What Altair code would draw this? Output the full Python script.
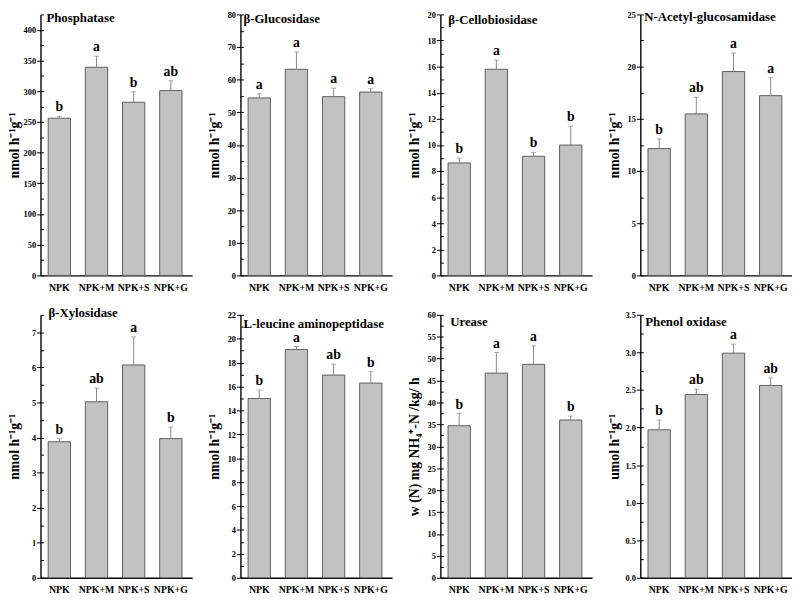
import altair as alt
import numpy as np
import pandas as pd

FONT = "Liberation Serif"

treatments = ["NPK", "NPK+M", "NPK+S", "NPK+G"]

panel_names = ["Phosphatase", "β-Glucosidase", "β-Cellobiosidase", "N-Acetyl-glucosamidase",
               "β-Xylosidase", "L-leucine aminopeptidase", "Urease", "Phenol  oxidase"]

y_titles = ["nmol h⁻¹g⁻¹", "nmol h⁻¹g⁻¹", "nmol h⁻¹g⁻¹", "nmol h⁻¹g⁻¹",
            "nmol h⁻¹g⁻¹", "nmol h⁻¹g⁻¹", "w (N)  mg NH₄⁺-N /kg/ h", "umol h⁻¹g⁻¹"]

means = [
    [256, 339, 282, 301],
    [54.4, 63.2, 54.8, 56.2],
    [8.62, 15.8, 9.13, 9.99],
    [12.15, 15.47, 19.53, 17.22],
    [3.88, 5.02, 6.07, 3.97],
    [15.0, 19.1, 16.96, 16.29],
    [34.7, 46.7, 48.7, 36.0],
    [1.97, 2.44, 2.99, 2.56],
]

errors = [
    [3, 18, 17, 16],
    [1.3, 5.3, 2.6, 1.0],
    [0.37, 0.7, 0.3, 1.45],
    [0.92, 1.6, 1.77, 1.72],
    [0.09, 0.39, 0.8, 0.33],
    [0.7, 0.25, 0.92, 0.95],
    [2.8, 4.7, 4.2, 0.9],
    [0.13, 0.07, 0.12, 0.10],
]

letters = [
    ["b", "a", "b", "ab"],
    ["a", "a", "a", "a"],
    ["b", "a", "b", "b"],
    ["b", "ab", "a", "a"],
    ["b", "ab", "a", "b"],
    ["b", "a", "ab", "b"],
    ["b", "a", "a", "b"],
    ["b", "ab", "a", "ab"],
]

y_max = [425, 80, 20, 25, 7.5, 22, 60, 3.5]
y_step = [50, 10, 2, 5, 1, 2, 5, 0.5]

# panel-title placement inside each plot (pixels from plot's top-left)
title_dx = [6, 3, 8, 4, 8, 3, 10, 5]
title_dy = [4, 5, 6, 3, -2, 9, 7, 7]

W = 154
H_TOP = 265
H_BOTTOM = 267

BAR_FILL = "#c2c2c2"
BAR_STROKE = "#5e5e5e"
ERR_COLOR = "#8a8a8a"


def fmt_for(step):
    return ".1f" if step < 1 else "d"


def panel(i, H):
    df = pd.DataFrame({
        "treatment": treatments,
        "mean": means[i],
        "err": errors[i],
        "letter": letters[i],
    })
    df["top"] = df["mean"] + df["err"]

    ymax = y_max[i]
    step = y_step[i]
    major_vals = [round(v, 4) for v in np.arange(0, ymax + 1e-9, step)]
    minor_vals = [round(v, 4) for v in np.arange(0, ymax + 1e-9, step / 2)]

    xscale = alt.Scale(domain=treatments, paddingInner=0.4, paddingOuter=0.24, align=0.43)
    yscale = alt.Scale(domain=[0, ymax], nice=False, zero=True)

    base = alt.Chart(df)

    bars = base.mark_bar(fill=BAR_FILL, stroke=BAR_STROKE, strokeWidth=1).encode(
        x=alt.X("treatment:N", sort=treatments, scale=xscale,
                axis=alt.Axis(orient="bottom", title=None, labelAngle=0, ticks=False,
                              labelPadding=7, labelFontSize=10, labelFont=FONT,
                              labelFontWeight="bold", labelColor="black",
                              domainColor="black", domainWidth=1.4)),
        y=alt.Y("mean:Q", scale=yscale,
                axis=alt.Axis(orient="left", values=major_vals, format=fmt_for(step),
                              title=y_titles[i], titleFont=FONT, titleFontSize=14,
                              titleFontWeight="bold", titleColor="black", titlePadding=2,
                              labelFont=FONT, labelFontSize=8.5, labelFontWeight="bold",
                              labelColor="black", labelPadding=1, tickSize=4,
                              tickColor="black", tickWidth=1, domainColor="black",
                              domainWidth=1.4, minExtent=17, maxExtent=17, grid=False)),
    )

    err = base.mark_rule(color=ERR_COLOR, strokeWidth=1).encode(
        x=alt.X("treatment:N", sort=treatments,
                axis=alt.Axis(orient="top", offset=-H, labels=False, domain=False,
                              ticks=True, tickSize=3, tickColor="black", title=None,
                              grid=False)),
        y=alt.Y("mean:Q",
                axis=alt.Axis(orient="right", offset=-W, values=minor_vals, labels=False,
                              domain=False, ticks=True, tickSize=3, tickColor="black",
                              title=None, grid=False)),
        y2="top:Q",
    )

    caps = base.mark_tick(color=ERR_COLOR, size=5, thickness=1).encode(
        x=alt.X("treatment:N", sort=treatments, axis=None),
        y=alt.Y("top:Q", axis=None),
    )

    lett = base.mark_text(baseline="bottom", dy=-2, font=FONT, fontSize=14,
                          fontWeight="bold", color="black").encode(
        x=alt.X("treatment:N", sort=treatments, axis=None),
        y=alt.Y("top:Q", axis=None),
        text="letter:N",
    )

    ttl = alt.Chart(pd.DataFrame({"name": [panel_names[i]]})).mark_text(
        align="left", baseline="middle", font=FONT, fontSize=13, fontWeight="bold",
        color="black").encode(
        x=alt.value(title_dx[i]),
        y=alt.value(title_dy[i]),
        text="name:N",
    )

    return alt.layer(bars, err, caps, lett, ttl).resolve_axis(
        x="independent", y="independent").properties(width=W, height=H)


row1 = alt.hconcat(*[panel(i, H_TOP) for i in range(4)], spacing=16)
row2 = alt.hconcat(*[panel(i, H_BOTTOM) for i in range(4, 8)], spacing=16)

chart = alt.vconcat(row1, row2, spacing=15).properties(
    padding={"left": 0, "top": -2, "right": 0, "bottom": 0}
).configure_view(stroke=None).configure_axis(grid=False)

chart.save("out.html", embed_options={"renderer": "svg", "actions": False})
